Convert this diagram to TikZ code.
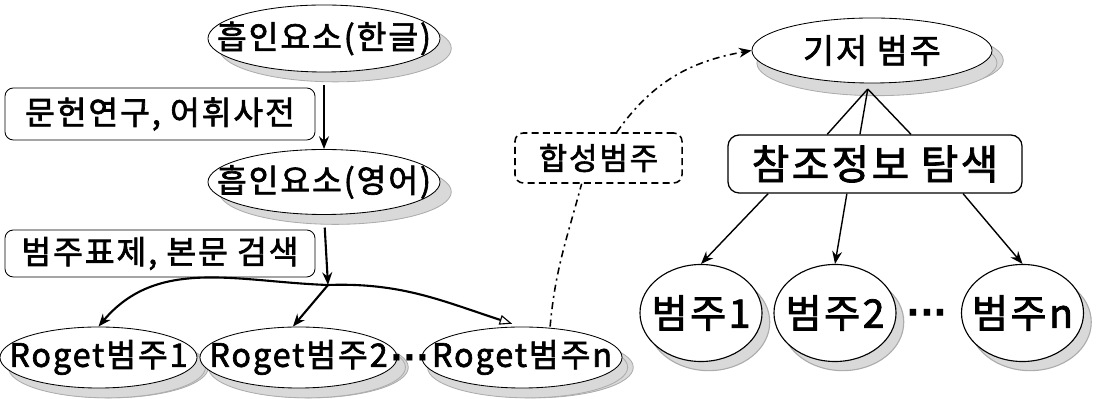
\documentclass[tikz,border=0pt]{standalone}
\usepackage{fontspec}
\setmainfont{Noto Sans CJK KR}[LetterSpace=6, FakeBold=2]
\newfontfamily\dotfont{DejaVu Sans}
\usetikzlibrary{shapes.geometric,shadows,arrows.meta}
\newcommand{\fs}[1]{\fontsize{#1}{#1}\selectfont}
\begin{document}
\begin{tikzpicture}[x=0.025cm,y=0.025cm,
  oval/.style={ellipse, draw, line width=0.6pt, fill=white, inner sep=0pt,
    general shadow={fill=gray!30, draw=gray!65, shadow xshift=8pt, shadow yshift=-7pt}},
  lbl/.style={inner sep=0pt, font=\fs{23}},
  lbox/.style={rectangle, rounded corners=6pt, draw, line width=0.6pt, inner sep=0pt,
    minimum width=7.75cm, font=\fs{23}},
  circ/.style={ellipse, draw, line width=0.8pt, fill=white, inner sep=0pt,
    minimum width=3.05cm, minimum height=2.425cm,
    general shadow={fill=gray!30, draw=gray!65, shadow xshift=5.5pt, shadow yshift=-6.5pt}},
  clbl/.style={inner sep=0pt, font=\fs{28}},
  arr/.style={line width=1.5pt, -{Stealth[length=9pt,width=7pt]}},
  oarr/.style={line width=1.5pt, -{Triangle[open,length=9pt,width=7pt,line width=0.8pt]}},
  rarr/.style={line width=1pt, -{Stealth[length=9pt,width=7pt]}},
  dd/.style={line width=1.1pt, dash pattern=on 5pt off 3pt on 1.5pt off 3pt},
  dotsn/.style={inner sep=0pt, font=\dotfont\bfseries\fs{24}}
]
\useasboundingbox (0,0) rectangle (1098,399);

% left column
\node[oval, minimum width=5.8cm, minimum height=1.675cm, label={[lbl]center:흡인요소(한글)}] (e1) at (324,360.5) {};
\node[lbox, minimum height=1.3cm] (b1) at (160,285) {문헌연구, 어휘사전};
\node[oval, minimum width=5.8cm, minimum height=1.625cm, label={[lbl]center:흡인요소(영어)}] (e2) at (324,217) {};
\node[lbox, minimum height=1.175cm] (b2) at (160,145.5) {범주표제, 본문 검색};
\coordinate (J) at (328,114);

\node[oval, minimum width=4.925cm, minimum height=1.525cm,
  general shadow={fill=gray!30, draw=gray!65, shadow xshift=6pt, shadow yshift=-7pt}] (r1) at (98.5,41.5) {};
\node[lbl] at (r1.center) {Roget범주1};
\node[oval, minimum width=4.925cm, minimum height=1.525cm,
  general shadow={fill=gray!30, draw=gray!65, shadow xshift=6pt, shadow yshift=-7pt}] (r2) at (298.5,41.5) {};
\node[lbl] at (r2.center) {Roget범주2};
\node[oval, minimum width=5cm, minimum height=1.525cm,
  general shadow={fill=gray!30, draw=gray!65, shadow xshift=4pt, shadow yshift=-7pt}] (rn) at (522,41.5) {};
\node[lbl] at (rn.center) {Roget범주n};
\node[dotsn] (d1) at (410,37) {···};

\draw[arr, shorten <=9pt] (e1.south) -- (e2.north);
\draw[arr, shorten <=9pt] (e2.south) -- (J);
\draw[arr] (J) to[out=178,in=50] (r1.north);
\draw[arr] (J) -- ([xshift=-4pt]r2.north);
\draw[oarr] (J) to[out=2,in=162] ([xshift=-7pt,yshift=2pt]rn.north);

% synthetic category
\node[rectangle, rounded corners=6pt, draw, line width=1.1pt, dash pattern=on 5pt off 3pt,
  minimum width=4.175cm, minimum height=1.25cm, inner sep=0pt, font=\fs{22}] (syn) at (598.5,241) {합성범주};

% right column
\node[oval, minimum width=6cm, minimum height=1.625cm,
  general shadow={fill=gray!30, draw=gray!65, shadow xshift=3.5pt, shadow yshift=-9pt},
  label={[lbl, font=\fs{24}]center:기저 범주}] (base) at (872,348.5) {};
\node[rectangle, rounded corners=8pt, draw, line width=0.9pt, inner sep=0pt,
  minimum width=7.35cm, minimum height=1.45cm, font=\fs{29}] (ref) at (875,235) {참조정보 탐색};
\node[circ, label={[clbl]center:범주1}] (c1) at (701,86) {};
\node[circ, label={[clbl]center:범주2}] (c2) at (835,86) {};
\node[circ, label={[clbl]center:범주n}] (cn) at (1022.5,86) {};
\node[dotsn, font=\dotfont\bfseries\fs{26}] (d2) at (927,82) {···};

\draw[dd] ([xshift=20pt]rn.north) to[out=85,in=-105] ([xshift=-12pt]syn.south);
\draw[dd, -{Stealth[length=9pt,width=7pt]}] ([xshift=13pt]syn.north) to[out=55,in=190] (base.west);

\coordinate (bp) at ([xshift=-3pt,yshift=-4pt]base.south);
\draw[line width=1pt] (bp) -- ([xshift=-34pt]ref.north);
\draw[line width=1pt] (bp) -- ([xshift=-10.7pt]ref.north);
\draw[line width=1pt] (bp) -- ([xshift=25.6pt]ref.north);

\draw[rarr] ([xshift=-76pt]ref.south) -- (c1.north);
\draw[rarr] ([xshift=-20pt]ref.south) -- (c2.north);
\draw[rarr] ([xshift=62.6pt]ref.south) -- (cn.north);
\end{tikzpicture}
\end{document}
